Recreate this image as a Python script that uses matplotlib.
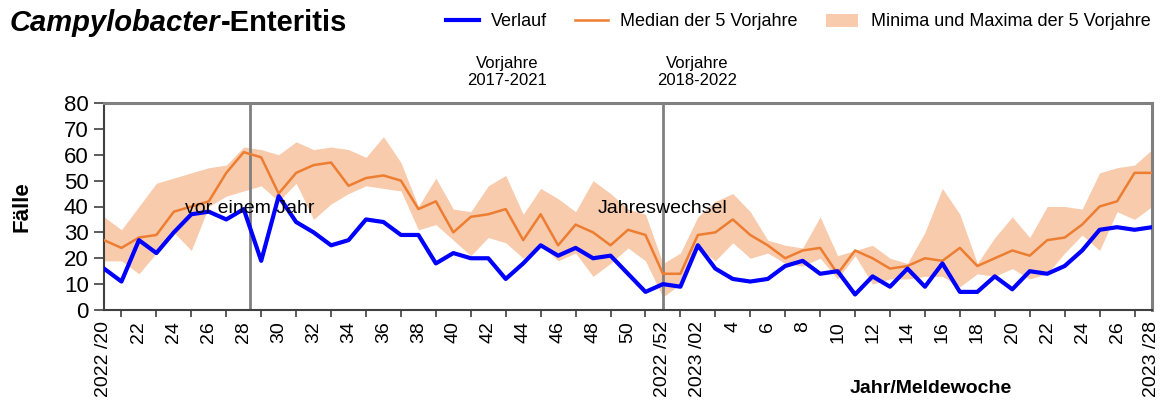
import matplotlib
matplotlib.use("Agg")
from matplotlib import pyplot as plt
from matplotlib.lines import Line2D
from matplotlib.patches import Patch

plt.rcParams['font.family'] = ['Liberation Sans', 'DejaVu Sans']

# Meldewochen 2022/20 bis 2023/28 (61 Wochen)
verlauf = [
    16, 11, 27, 22, 30, 37, 38, 35, 39, 19, 44, 34, 30, 25, 27, 35, 34, 29, 29, 18, 22, 20, 20, 12, 18, 25, 21, 24,
    20, 21, 14, 7, 10, 9, 25, 16, 12, 11, 12, 17, 19, 14, 15, 6, 13, 9, 16, 9, 18, 7, 7, 13, 8, 15, 14, 17, 23, 31,
    32, 31, 32
]
median = [
    27, 24, 28, 29, 38, 40, 42, 53, 61, 59, 45, 53, 56, 57, 48, 51, 52, 50, 39, 42, 30, 36, 37, 39, 27, 37, 25, 33,
    30, 25, 31, 29, 14, 14, 29, 30, 35, 29, 25, 20, 23, 24, 14, 23, 20, 16, 17, 20, 19, 24, 17, 20, 23, 21, 27, 28,
    33, 40, 42, 53, 53
]
maxima = [
    36, 31, 40, 49, 51, 53, 55, 56, 63, 62, 60, 65, 62, 63, 62, 59, 67, 57, 40, 51, 39, 38, 48, 52, 37, 47, 43, 38,
    50, 45, 39, 37, 18, 22, 36, 42, 45, 38, 27, 25, 24, 36, 21, 23, 25, 20, 18, 30, 47, 37, 18, 28, 36, 28, 40, 40,
    39, 53, 55, 56, 62
]
minima = [
    19, 19, 14, 22, 30, 23, 40, 44, 46, 48, 42, 49, 35, 41, 45, 48, 47, 46, 31, 33, 27, 21, 28, 26, 20, 25, 19, 22,
    13, 18, 24, 19, 5, 10, 24, 19, 26, 20, 22, 18, 17, 20, 12, 21, 10, 12, 12, 13, 13, 9, 14, 13, 16, 12, 14, 22,
    29, 23, 38, 35, 40
]
tick_labels = [
    '2022 /20', '22', '24', '26', '28', '30', '32', '34', '36', '38', '40', '42', '44', '46', '48', '50', '2022 /52',
    '2023 /02', '4', '6', '8', '10', '12', '14', '16', '18', '20', '22', '24', '26', '2023 /28'
]
vor_einem_jahr = 8.35
jahreswechsel = 32

x = list(range(len(verlauf)))

fig = plt.figure(figsize=(11.62, 4.01), dpi=100)
ax = fig.add_axes([104 / 1162, 91 / 401, 1048 / 1162, 207 / 401])

ax.fill_between(x, minima, maxima, color='#F8CBAD', lw=0, zorder=1)
ax.plot(x, median, color='#ED7D31', lw=1.8, zorder=3)
ax.plot(x, verlauf, color='#0000FF', lw=3, zorder=4)
ax.axvline(vor_einem_jahr, color='#808080', lw=2, zorder=2)
ax.axvline(jahreswechsel, color='#808080', lw=2, zorder=2)

ax.text(vor_einem_jahr, 37.6, 'vor einem Jahr', ha='center', va='baseline', fontsize=14, zorder=5)
ax.text(jahreswechsel, 37.6, 'Jahreswechsel', ha='center', va='baseline', fontsize=14, zorder=5)

ax.set_xlim(0, 60)
ax.set_ylim(0, 80)
ax.set_yticks(range(0, 81, 10))
ax.set_xticks([i for i in x if i % 2 == 0])
ax.set_xticklabels(tick_labels, rotation=90, fontsize=14)
ax.set_xticks([i for i in x if i % 2 == 1] + [60], minor=True)
ax.tick_params(axis='x', which='major', length=0, pad=8)
ax.tick_params(axis='x', which='minor', length=5, width=1.2, color='#404040')
ax.tick_params(axis='y', labelsize=16, length=7, width=1.2, color='#404040', pad=4)

for side in ['top', 'right']:
    ax.spines[side].set_color('#808080')
    ax.spines[side].set_linewidth(2.2)
for side in ['left', 'bottom']:
    ax.spines[side].set_color('#404040')
    ax.spines[side].set_linewidth(1.5)

ax.set_ylabel('Fälle', fontsize=16, fontweight='bold')
ax.yaxis.set_label_coords(-0.068, 0.5)
ax.set_xlabel('Jahr/Meldewoche', fontsize=14, fontweight='bold')
ax.xaxis.set_label_coords(0.789, -0.34)

fig.text(507 / 1162, 1 - 72 / 401, 'Vorjahre\n2017-2021', ha='center', va='center', fontsize=12, linespacing=1.1)
fig.text(697 / 1162, 1 - 72 / 401, 'Vorjahre\n2018-2022', ha='center', va='center', fontsize=12, linespacing=1.1)

t1 = fig.text(10 / 1162, 1 - 23 / 401, 'Campylobacter', fontsize=21, fontweight='bold', style='italic',
              va='center')
fig.canvas.draw()
bb = t1.get_window_extent()
fig.text(bb.x1 / 1162, 1 - 23 / 401, '-Enteritis', fontsize=21, fontweight='bold', va='center')

handles = [
    Line2D([], [], color='#0000FF', lw=3),
    Line2D([], [], color='#ED7D31', lw=1.8),
    Patch(facecolor='#F8CBAD', edgecolor='none'),
]
labels = ['Verlauf', 'Median der 5 Vorjahre', 'Minima und Maxima der 5 Vorjahre']
fig.legend(handles, labels, loc='center left', bbox_to_anchor=(437 / 1162, 1 - 22 / 401), ncol=3,
           frameon=False, fontsize=13, borderpad=0, handlelength=1.8, handletextpad=0.7, columnspacing=1.55)

fig.savefig('out.png', dpi=100)
